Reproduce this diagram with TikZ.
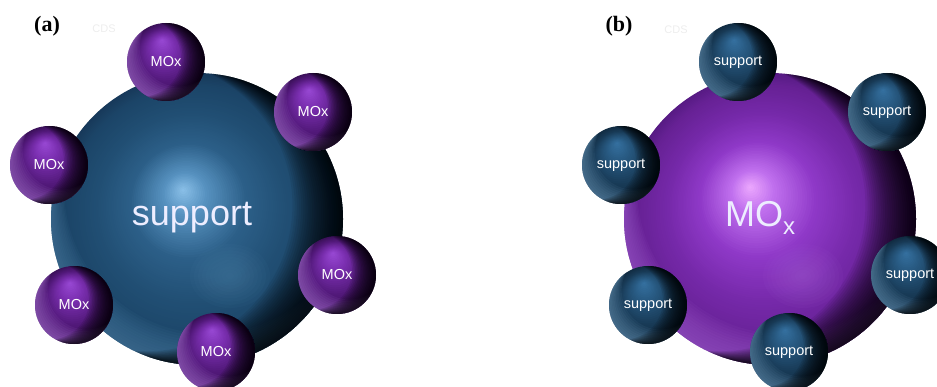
\documentclass[tikz,border=0pt]{standalone}
\usepackage{fontspec}
\newfontfamily\arialf{Liberation Sans}
\newfontfamily\tnrf{Liberation Serif}
% ---- colours: big blue ball
\definecolor{gB0}{HTML}{8CC2EA}
\definecolor{gB1}{HTML}{5792C0}
\definecolor{gB2}{HTML}{2C5F88}
\definecolor{gB3}{HTML}{214F74}
\definecolor{gB4}{HTML}{1B4467}
\definecolor{gB5}{HTML}{17395A}
% ---- big purple ball
\definecolor{gP0}{HTML}{EEAAFF}
\definecolor{gP1}{HTML}{C070EE}
\definecolor{gP2}{HTML}{8F39C8}
\definecolor{gP3}{HTML}{7629AA}
\definecolor{gP4}{HTML}{662194}
\definecolor{gP5}{HTML}{571B84}
% ---- small purple ball
\definecolor{sP0}{HTML}{9A4AD6}
\definecolor{sP1}{HTML}{7C30B2}
\definecolor{sP2}{HTML}{52197A}
\definecolor{sP3}{HTML}{3A1058}
% ---- small blue ball
\definecolor{sB0}{HTML}{3672A2}
\definecolor{sB1}{HTML}{285A82}
\definecolor{sB2}{HTML}{183A56}
\definecolor{sB3}{HTML}{112C42}
% ---- glows
\definecolor{pglow}{HTML}{B67AE4}
\definecolor{bglow}{HTML}{6E9EC2}
\definecolor{bigbglow}{HTML}{4F84AA}
\definecolor{bigpglow}{HTML}{A862D8}
\def\bigbluelist{gB4/gB5/0.9/1.0/8, gB3/gB4/0.65/0.9/18, gB2/gB3/0.4/0.65/20, gB1/gB2/0.15/0.4/18, gB0/gB1/0/0.15/12}
\def\bigpurplelist{gP4/gP5/0.9/1.0/8, gP3/gP4/0.65/0.9/18, gP2/gP3/0.4/0.65/20, gP1/gP2/0.15/0.4/18, gP0/gP1/0/0.15/12}
\def\smallpurplelist{sP2/sP3/0.7/1.0/10, sP1/sP2/0.3/0.7/12, sP0/sP1/0/0.3/10}
\def\smallbluelist{sB2/sB3/0.7/1.0/10, sB1/sB2/0.3/0.7/12, sB0/sB1/0/0.3/10}
% concentric gradient ball: x, y, R, highlight dx, highlight dy, list
\newcommand\gradball[6]{%
  \foreach \ca/\cb/\ua/\ub/\n in #6 {%
    \foreach \j in {1,...,\n} {%
      \pgfmathsetmacro\uu{\ub-(\ub-\ua)*(\j-1)/\n}%
      \pgfmathtruncatemacro\pct{100*(1-(\j-1)/\n)}%
      \pgfmathsetmacro\cx{#1+(#4)*(1-\uu)}%
      \pgfmathsetmacro\cy{#2+(#5)*(1-\uu)}%
      \pgfmathsetmacro\rr{#3*\uu}%
      \fill[fill=\cb!\pct!\ca] (\cx,\cy) circle[radius=\rr pt];
    }%
  }}
% crescent shading: x, y, R, shift x, shift y, colour, opacity, layers
\newcommand\crescent[8]{%
  \begin{scope}
    \clip (#1,#2) circle[radius=#3pt];
    \foreach \k in {1,...,#8} {%
      \fill[fill=#6, fill opacity=#7, even odd rule] (#1,#2) circle[radius=#3pt+1pt] ({#1+(#4)*\k},{#2+(#5)*\k}) circle[radius=#3pt];
    }%
  \end{scope}}
% soft blob: x, y, rx, ry, colour, opacity
\newcommand\softblob[6]{%
  \foreach \k in {1,...,10} {%
    \pgfmathsetmacro\rxx{#3*(11-\k)/10}%
    \pgfmathsetmacro\ryy{#4*(11-\k)/10}%
    \fill[fill=#5, fill opacity=#6] (#1,#2) ellipse[x radius=\rxx pt, y radius=\ryy pt];
  }}
\tikzset{
  ballnode/.style={circle, inner sep=0pt, minimum size=78pt, text=white, font=\arialf\fontsize{14.5}{16}\selectfont},
  bignode/.style={circle, inner sep=0pt, minimum size=292pt},
  bigtext/.style={text=white!93!blue, font=\arialf\fontsize{36}{40}\selectfont, inner sep=0pt},
  panel/.style={font=\tnrf\bfseries\fontsize{22}{24}\selectfont, inner sep=0pt},
  ghost/.style={text=black!7, font=\arialf\fontsize{11}{12}\selectfont, inner sep=0pt},
}
% small ball: name, x, y, gradient list, glow colour, label
\newcommand\smallball[6]{%
  \gradball{#2}{#3}{39}{-4}{-22}{#4}
  \crescent{#2}{#3}{39}{1.4}{-1.6}{#5}{0.085}{9}
  \crescent{#2}{#3}{39}{-1.6}{-0.3}{black}{0.09}{15}
  \node[ballnode] (#1) at (#2,#3) {#6};}
\begin{document}
\begin{tikzpicture}[x=1pt, y=-1pt]
\useasboundingbox (0,0) rectangle (937,387);
% ---------- panel (a) ----------
\gradball{197}{219}{146}{-14}{-29}{\bigbluelist}
\begin{scope}
  \clip (197,219) circle[radius=146pt];
  \softblob{230}{276}{40}{32}{bigbglow}{0.06}
\end{scope}
\crescent{197}{219}{146}{1}{-2.4}{bigbglow}{0.07}{13}
\crescent{197}{219}{146}{-2.2}{-0.6}{black}{0.065}{23}
\node[bignode] (A) at (197,219) {};
\node[bigtext] (Alabel) at (192,218) {support};
\smallball{a1}{166}{62}{\smallpurplelist}{pglow}{MOx}
\smallball{a2}{313}{112}{\smallpurplelist}{pglow}{MOx}
\smallball{a3}{49}{165}{\smallpurplelist}{pglow}{MOx}
\smallball{a4}{337}{275}{\smallpurplelist}{pglow}{MOx}
\smallball{a5}{74}{305}{\smallpurplelist}{pglow}{MOx}
\smallball{a6}{216}{352}{\smallpurplelist}{pglow}{MOx}
\node[panel] (pa) at (47,26) {(a)};
\node[ghost] (ga) at (104,29) {CDS};
% ---------- panel (b) ----------
\gradball{770}{219}{146}{-20}{-32}{\bigpurplelist}
\begin{scope}
  \clip (770,219) circle[radius=146pt];
  \softblob{803}{276}{40}{32}{bigpglow}{0.06}
\end{scope}
\crescent{770}{219}{146}{1}{-2.4}{bigpglow}{0.07}{13}
\crescent{770}{219}{146}{-2.2}{-0.6}{black}{0.065}{23}
\node[bignode] (B) at (770,219) {};
\node[bigtext] (Blabel) at (760,218) {MO\raisebox{-8pt}{\fontsize{24}{24}\selectfont x}};
\smallball{b1}{738}{62}{\smallbluelist}{bglow}{support}
\smallball{b2}{887}{112}{\smallbluelist}{bglow}{support}
\smallball{b3}{621}{165}{\smallbluelist}{bglow}{support}
\smallball{b4}{910}{275}{\smallbluelist}{bglow}{support}
\smallball{b5}{648}{305}{\smallbluelist}{bglow}{support}
\smallball{b6}{789}{352}{\smallbluelist}{bglow}{support}
\node[panel] (pb) at (619,26) {(b)};
\node[ghost] (gb) at (676,30) {CDS};
\end{tikzpicture}
\end{document}
